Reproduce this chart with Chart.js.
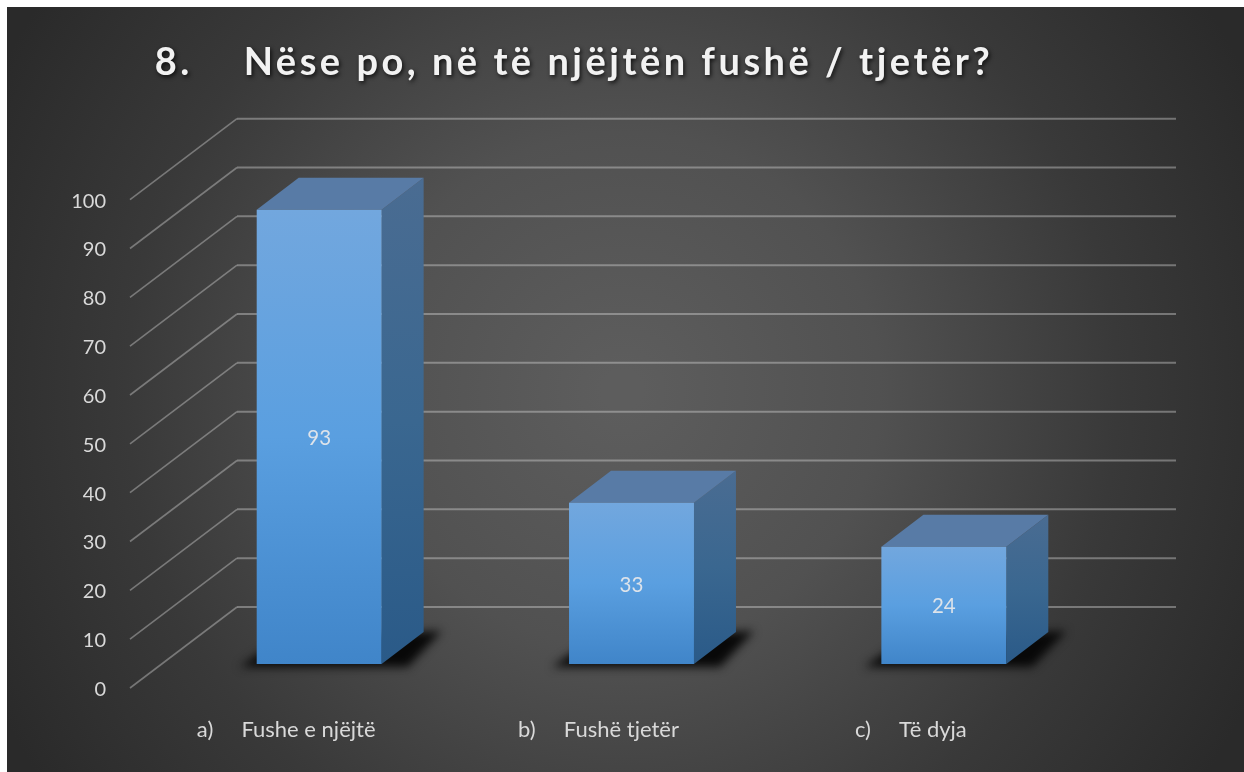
<!DOCTYPE html>
<html><head><meta charset="utf-8">
<style>html,body{margin:0;padding:0;background:#fff}canvas{display:block}</style>
<script src="https://cdn.jsdelivr.net/npm/chart.js@4"></script>
</head><body><canvas id="c" width="1244" height="772"></canvas>
<script>
const titleText = "8.    Nëse po, në të njëjtën fushë / tjetër?";
const categories = ["a)     Fushe e njëjtë", "b)     Fushë tjetër", "c)     Të dyja"];
const seriesValues = [93, 33, 24];
const yTicks = [0,10,20,30,40,50,60,70,80,90,100];

const unit = 4.88, DX = 107, DY = 81, BDX = 42, BDY = 32, FLOOR = 24;
const axisMax = 569 / unit;
const floorValue = FLOOR / unit;
const FONT = "Lato";

function grad(ctx, y0, y1, c0, c1, c2) {
  const g = ctx.createLinearGradient(0, y0, 0, y1);
  g.addColorStop(0, c0); g.addColorStop(.5, c1); g.addColorStop(1, c2);
  return g;
}
const deco = {
  id: "deco",
  beforeDraw(chart) {
    const { ctx, width, height } = chart;
    ctx.save();
    ctx.fillStyle = "#fff"; ctx.fillRect(0, 0, width, height);
    const g = ctx.createRadialGradient(622, 390, 20, 622, 390, 700);
    g.addColorStop(0, "#5d5d5d"); g.addColorStop(.35, "#515151");
    g.addColorStop(.7, "#393939"); g.addColorStop(1, "#2a2a2a");
    ctx.fillStyle = g; ctx.fillRect(7, 7, width - 7, height - 7);
    ctx.restore();
    const tb = chart.titleBlock;
    if (tb && !tb._wrapped) {
      tb._wrapped = true;
      const d = tb.draw.bind(tb);
      tb.draw = function () {
        const c = tb.ctx;
        c.save();
        c.translate(24, 0);
        c.letterSpacing = "3.5px";
        c.shadowColor = "rgba(0,0,0,.75)"; c.shadowBlur = 4; c.shadowOffsetX = 1.5; c.shadowOffsetY = 2;
        d();
        c.restore();
      };
    }
  },
  beforeDatasetsDraw(chart) {
    const { ctx, scales: { x, y } } = chart;
    const left = x.left - 33, right = x.right + 76;
    ctx.save();
    ctx.lineJoin = "round";
    yTicks.forEach(v => {
      const py = y.getPixelForValue(v);
      ctx.beginPath(); ctx.moveTo(left, py); ctx.lineTo(left + DX, py - DY);
      ctx.strokeStyle = "rgba(225,225,225,.38)"; ctx.lineWidth = 1.6; ctx.stroke();
      ctx.beginPath(); ctx.moveTo(left + DX, py - DY); ctx.lineTo(right, py - DY);
      ctx.strokeStyle = "rgba(225,225,225,.38)"; ctx.lineWidth = 2; ctx.stroke();
    });
    chart.getDatasetMeta(0).data.forEach(b => {
      const l = b.x - b.width / 2, r = b.x + b.width / 2, t = b.y, bt = b.base;
      ctx.save();
      ctx.filter = "blur(5px)";
      ctx.fillStyle = "#080808";
      ctx.beginPath();
      ctx.moveTo(l - 17, bt + 3); ctx.lineTo(l + 25, bt - 26); ctx.lineTo(r + 60, bt - 33);
      ctx.lineTo(r + 26, bt + 3); ctx.closePath(); ctx.fill();
      ctx.restore();
      ctx.fillStyle = grad(ctx, t - BDY, bt, "#4a6c92", "#3a6790", "#2a5a88");
      ctx.beginPath(); ctx.moveTo(r, t); ctx.lineTo(r + BDX, t - BDY); ctx.lineTo(r + BDX, bt - BDY); ctx.lineTo(r, bt); ctx.closePath(); ctx.fill();
      ctx.fillStyle = "#587ba6";
      ctx.beginPath(); ctx.moveTo(l, t); ctx.lineTo(l + BDX, t - BDY); ctx.lineTo(r + BDX, t - BDY); ctx.lineTo(r, t); ctx.closePath(); ctx.fill();
    });
    ctx.restore();
  },
  afterDatasetsDraw(chart) {
    const { ctx } = chart;
    ctx.save();
    ctx.font = "20.5px " + FONT; ctx.fillStyle = "#dde3ea";
    ctx.textAlign = "center"; ctx.textBaseline = "middle";
    chart.getDatasetMeta(0).data.forEach((b, i) => {
      ctx.fillText(String(seriesValues[i]), b.x, (b.y + b.base) / 2 + 1.5);
    });
    ctx.restore();
  }
};
new Chart(document.getElementById("c"), {
  type: "bar",
  data: {
    labels: categories,
    datasets: [{
      data: seriesValues,
      yAxisID: "y2",
      borderWidth: 0,
      barPercentage: .4,
      categoryPercentage: 1,
      backgroundColor(c) {
        const s = c.chart.scales.y2;
        if (!s || !c.parsed) return "#5b9bd5";
        const y0 = s.getPixelForValue(c.parsed.y), y1 = s.getPixelForValue(0);
        if (!Number.isFinite(y0) || !Number.isFinite(y1)) return "#5b9bd5";
        return grad(c.chart.ctx, y0, y1, "#72a7de", "#5a9fe0", "#4085c9");
      }
    }]
  },
  plugins: [deco],
  options: {
    responsive: false, animation: false, events: [],
    layout: { padding: { left: 0, right: 144, top: 0, bottom: 0 } },
    plugins: {
      legend: { display: false }, tooltip: { enabled: false },
      title: { display: true, text: titleText, color: "#f2f2f2",
        font: { family: FONT, size: 38, weight: "bold", lineHeight: 1.2 },
        padding: { top: 40, bottom: 33 } }
    },
    scales: {
      x: { type: "category", offset: true, grid: { display: false }, border: { display: false },
        afterFit(s) { s.height = 84; },
        ticks: { color: "#d9d9d9", font: { family: FONT, size: 22 }, padding: 21, labelOffset: -33, autoSkip: false, maxRotation: 0 } },
      y: { min: 0, max: axisMax, position: "left", grid: { display: false }, border: { display: false },
        afterBuildTicks(s) { s.ticks = yTicks.map(v => ({ value: v })); },
        afterFit(s) { s.width = 163; },
        ticks: { color: "#d9d9d9", font: { family: FONT, size: 20 }, padding: 49, labelOffset: 1.5 } },
      y2: { display: false, min: -floorValue, max: axisMax - floorValue }
    }
  }
});
</script></body></html>
